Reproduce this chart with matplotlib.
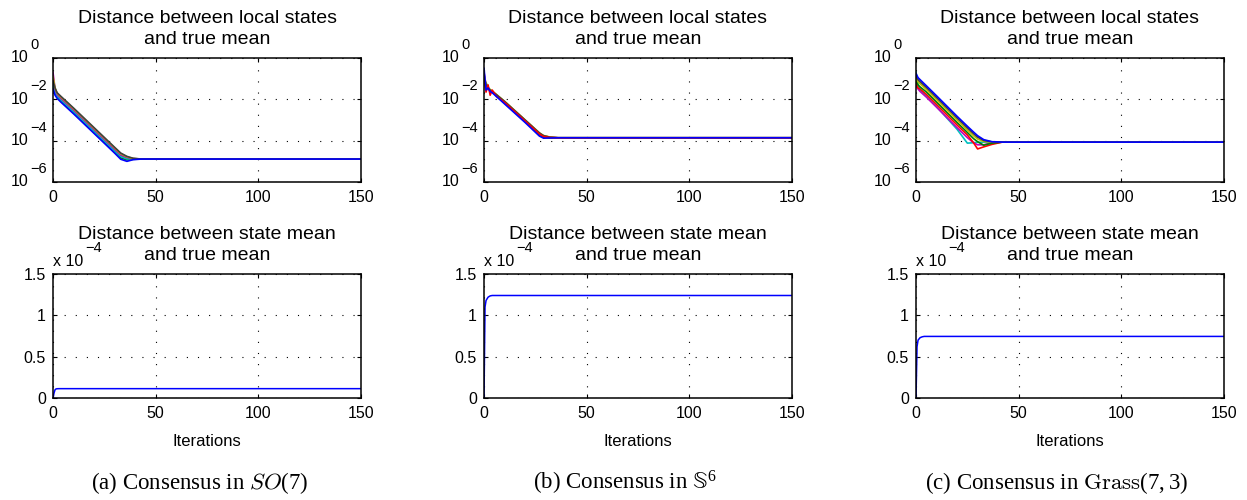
import matplotlib
matplotlib.use("Agg")
import matplotlib.pyplot as plt
import matplotlib.transforms as mtransforms

plt.rcParams['font.family'] = ['Liberation Sans', 'DejaVu Sans']
plt.rcParams['mathtext.default'] = 'regular'

# MATLAB (pre-2014b) colour order
c_blue = '#0000ff'
c_green = '#008000'
c_red = '#ff0000'
c_cyan = '#00bfbf'
c_magenta = '#bf00bf'
c_yellow = '#bfbf00'
c_dark = '#404040'

# ---- (a) SO(7): distance between local states and true mean ----
so7_x = [0, 1, 2, 4, 10, 20, 30, 33, 36, 39, 43, 150]
so7_green = [5.0e-2, 2.0e-2, 1.26e-2, 7.9e-3, 2.24e-3, 2.51e-4, 2.82e-5, 1.48e-5, 1.17e-5, 1.26e-5, 1.29e-5, 1.29e-5]
so7_red = [1.0e-1, 2.51e-2, 1.58e-2, 1.0e-2, 2.82e-3, 3.16e-4, 3.55e-5, 1.9e-5, 1.45e-5, 1.32e-5, 1.29e-5, 1.29e-5]
so7_cyan = [6.3e-2, 2.24e-2, 1.41e-2, 8.9e-3, 2.51e-3, 2.82e-4, 3.16e-5, 1.7e-5, 1.32e-5, 1.29e-5, 1.29e-5, 1.29e-5]
so7_magenta = [2.0e-1, 3.16e-2, 1.78e-2, 1.12e-2, 3.16e-3, 3.55e-4, 3.98e-5, 2.09e-5, 1.55e-5, 1.35e-5, 1.29e-5, 1.29e-5]
so7_yellow = [1.26e-1, 3.55e-2, 2.0e-2, 1.26e-2, 3.55e-3, 3.98e-4, 4.47e-5, 2.34e-5, 1.66e-5, 1.38e-5, 1.29e-5, 1.29e-5]
so7_dark = [7.9e-2, 3.55e-2, 2.09e-2, 1.35e-2, 3.8e-3, 4.27e-4, 4.79e-5, 2.51e-5, 1.74e-5, 1.41e-5, 1.29e-5, 1.29e-5]
so7_blue = [3.16e-2, 1.58e-2, 1.12e-2, 7.08e-3, 2.0e-3, 2.24e-4, 2.51e-5, 1.26e-5, 1.0e-5, 1.2e-5, 1.29e-5, 1.29e-5]

# ---- (b) S^6 ----
s6_x = [0, 1, 2, 3, 4, 6, 10, 20, 27, 29, 32, 36, 150]
s6_green = [7.9e-2, 6.3e-2, 3.55e-2, 2.82e-2, 2.4e-2, 1.51e-2, 6.61e-3, 8.32e-4, 1.91e-4, 1.45e-4, 1.35e-4, 1.38e-4, 1.38e-4]
s6_red = [1.12e-1, 2.24e-2, 5.0e-2, 1.58e-2, 2.82e-2, 1.41e-2, 7.08e-3, 8.91e-4, 2.09e-4, 1.58e-4, 1.41e-4, 1.38e-4, 1.38e-4]
s6_cyan = [1.58e-1, 4.47e-2, 3.16e-2, 2.63e-2, 2.24e-2, 1.58e-2, 7.41e-3, 9.33e-4, 2.19e-4, 1.62e-4, 1.45e-4, 1.38e-4, 1.38e-4]
s6_magenta = [2.0e-1, 5.0e-2, 3.31e-2, 2.69e-2, 2.34e-2, 1.66e-2, 7.76e-3, 9.77e-4, 2.29e-4, 1.7e-4, 1.48e-4, 1.38e-4, 1.38e-4]
s6_yellow = [1.41e-1, 5.62e-2, 3.8e-2, 3.02e-2, 2.51e-2, 1.74e-2, 8.13e-3, 1.02e-3, 2.4e-4, 1.78e-4, 1.51e-4, 1.38e-4, 1.38e-4]
s6_dark = [1.0e-1, 5.25e-2, 3.55e-2, 2.82e-2, 2.45e-2, 1.7e-2, 7.94e-3, 1.0e-3, 2.34e-4, 1.74e-4, 1.48e-4, 1.38e-4, 1.38e-4]
s6_blue = [3.16e-1, 2.82e-2, 3.55e-2, 2.4e-2, 2.09e-2, 1.38e-2, 6.03e-3, 7.59e-4, 1.66e-4, 1.32e-4, 1.35e-4, 1.38e-4, 1.38e-4]

# ---- (c) Grass(7,3) ----
gr_x = [0, 1, 2, 5, 10, 20, 25, 28, 30, 33, 37, 42, 150]
gr_cyan = [2.09e-1, 5.0e-2, 2.82e-2, 1.41e-2, 4.47e-3, 3.55e-4, 7.59e-5, 7.94e-5, 8.32e-5, 8.51e-5, 8.51e-5, 8.51e-5, 8.51e-5]
gr_magenta = [4.47e-2, 3.16e-2, 2.4e-2, 1.29e-2, 4.17e-3, 4.27e-4, 1.41e-4, 7.94e-5, 6.31e-5, 6.31e-5, 7.94e-5, 8.51e-5, 8.51e-5]
gr_red = [6.31e-2, 3.55e-2, 3.16e-2, 1.74e-2, 5.62e-3, 5.75e-4, 1.91e-4, 7.94e-5, 3.98e-5, 5.01e-5, 6.61e-5, 8.51e-5, 8.51e-5]
gr_green = [7.94e-2, 5.0e-2, 3.98e-2, 2.29e-2, 7.41e-3, 7.59e-4, 2.51e-4, 1.26e-4, 8.91e-5, 6.03e-5, 7.59e-5, 8.51e-5, 8.51e-5]
gr_yellow = [1.0e-1, 7.08e-2, 5.62e-2, 3.02e-2, 9.77e-3, 1.0e-3, 3.31e-4, 1.74e-4, 1.2e-4, 9.12e-5, 8.51e-5, 8.51e-5, 8.51e-5]
gr_dark = [1.26e-1, 8.91e-2, 7.08e-2, 3.8e-2, 1.23e-2, 1.26e-3, 4.17e-4, 2.19e-4, 1.48e-4, 1.02e-4, 8.71e-5, 8.51e-5, 8.51e-5]
gr_blue = [1.78e-1, 1.12e-1, 8.91e-2, 4.57e-2, 1.48e-2, 1.51e-3, 5.01e-4, 2.63e-4, 1.74e-4, 1.12e-4, 8.91e-5, 8.51e-5, 8.51e-5]

# ---- distance between state mean and true mean (units of 1e-4) ----
mean_so7_x = [0, 0.5, 1, 1.5, 2, 3, 150]
mean_so7 = [0, 0.06, 0.1, 0.11, 0.112, 0.113, 0.113]
mean_s6_x = [0, 0.5, 1, 2, 3, 4, 150]
mean_s6 = [0, 1.1, 1.18, 1.22, 1.235, 1.24, 1.24]
mean_gr_x = [0, 0.5, 1, 2, 3, 4, 150]
mean_gr = [0, 0.62, 0.7, 0.73, 0.74, 0.745, 0.745]

top_titles = 'Distance between local states\nand true mean'
bottom_titles = 'Distance between state mean\nand true mean'
captions = ['(a) Consensus in $\\mathit{SO}(7)$', '(b) Consensus in $\\mathbb{S}^6$',
            '(c) Consensus in $\\mathrm{Grass}(7,3)$']
log_ticks = [1e-6, 1e-4, 1e-2, 1e0]
log_exps = ['\u22126', '\u22124', '\u22122', '0']
lin_ticks = [0, 0.5, 1, 1.5]
lin_ticklabels = ['0', '0.5', '1', '1.5']
x_ticks = [0, 50, 100, 150]

top_data = [
    (so7_x, [(so7_green, c_green), (so7_red, c_red), (so7_cyan, c_cyan), (so7_magenta, c_magenta),
             (so7_yellow, c_yellow), (so7_dark, c_dark), (so7_blue, c_blue)]),
    (s6_x, [(s6_green, c_green), (s6_cyan, c_cyan), (s6_magenta, c_magenta), (s6_yellow, c_yellow),
            (s6_dark, c_dark), (s6_red, c_red), (s6_blue, c_blue)]),
    (gr_x, [(gr_cyan, c_cyan), (gr_magenta, c_magenta), (gr_red, c_red), (gr_green, c_green),
            (gr_yellow, c_yellow), (gr_dark, c_dark), (gr_blue, c_blue)]),
]
bottom_data = [(mean_so7_x, mean_so7), (mean_s6_x, mean_s6), (mean_gr_x, mean_gr)]

fig = plt.figure(figsize=(12.47, 5.0), dpi=100)

lefts = [53 / 1247, 484 / 1247, 916 / 1247]
w = 308 / 1247
h = 124 / 500
grid_style = dict(color='black', linestyle=(0, (1, 9)), linewidth=0.8)


def style(ax):
    for s in ax.spines.values():
        s.set_linewidth(1.1)
    ax.tick_params(direction='in', top=True, right=True, length=3, width=0.8,
                   labelsize=11.5)
    ax.tick_params(axis='x', pad=6)
    ax.tick_params(axis='y', pad=5)
    ax.set_xlim(0, 150)
    ax.set_xticks(x_ticks)
    ax.grid(True, which='major', **grid_style)
    ax.minorticks_off()


for i in range(3):
    ax = fig.add_axes([lefts[i], 1 - 182 / 500, w, h])
    xs, series = top_data[i]
    for ys, col in series:
        ax.plot(xs, ys, color=col, linewidth=1.2)
    ax.set_yscale('log')
    ax.set_ylim(1e-6, 1)
    ax.set_yticks(log_ticks)
    style(ax)
    ax.minorticks_off()
    ax.set_yticklabels([])
    # MATLAB-style "10" with a raised exponent
    base_tr = mtransforms.blended_transform_factory(ax.transAxes, ax.transData)
    exp_tr = mtransforms.offset_copy(base_tr, fig=fig, y=13, units='dots')
    for t, e in zip(log_ticks, log_exps):
        ax.text(-0.081, t, '10', transform=base_tr, ha='right', va='center',
                fontsize=11.5)
        ax.text(-0.075, t, e, transform=exp_tr, ha='left', va='center',
                fontsize=10.5)
    ax.set_title(top_titles, fontsize=14, pad=10, linespacing=1.3)

    ax2 = fig.add_axes([lefts[i], 1 - 398 / 500, w, h])
    bx, by = bottom_data[i]
    ax2.plot(bx, by, color=c_blue, linewidth=1.1)
    ax2.set_ylim(0, 1.5)
    ax2.set_yticks(lin_ticks)
    ax2.set_yticklabels(lin_ticklabels)
    style(ax2)
    ax2.set_title(bottom_titles, fontsize=14, pad=10, linespacing=1.3)
    ax2.set_xlabel('Iterations', fontsize=12, labelpad=9)
    ax2.text(0, 1.065, 'x 10', transform=ax2.transAxes, fontsize=11.5,
             ha='left', va='baseline')
    ax2.text(0.104, 1.175, '\u22124', transform=ax2.transAxes, fontsize=10.5,
             ha='left', va='baseline')

cap_x = [200 / 1247, 625 / 1247, 1057 / 1247]
for i in range(3):
    fig.text(cap_x[i], 1 - 483 / 500, captions[i], ha='center', va='center',
             fontsize=16.5, family=['Liberation Serif', 'DejaVu Serif'],
             math_fontfamily='cm')

fig.savefig('out.png', dpi=100)
